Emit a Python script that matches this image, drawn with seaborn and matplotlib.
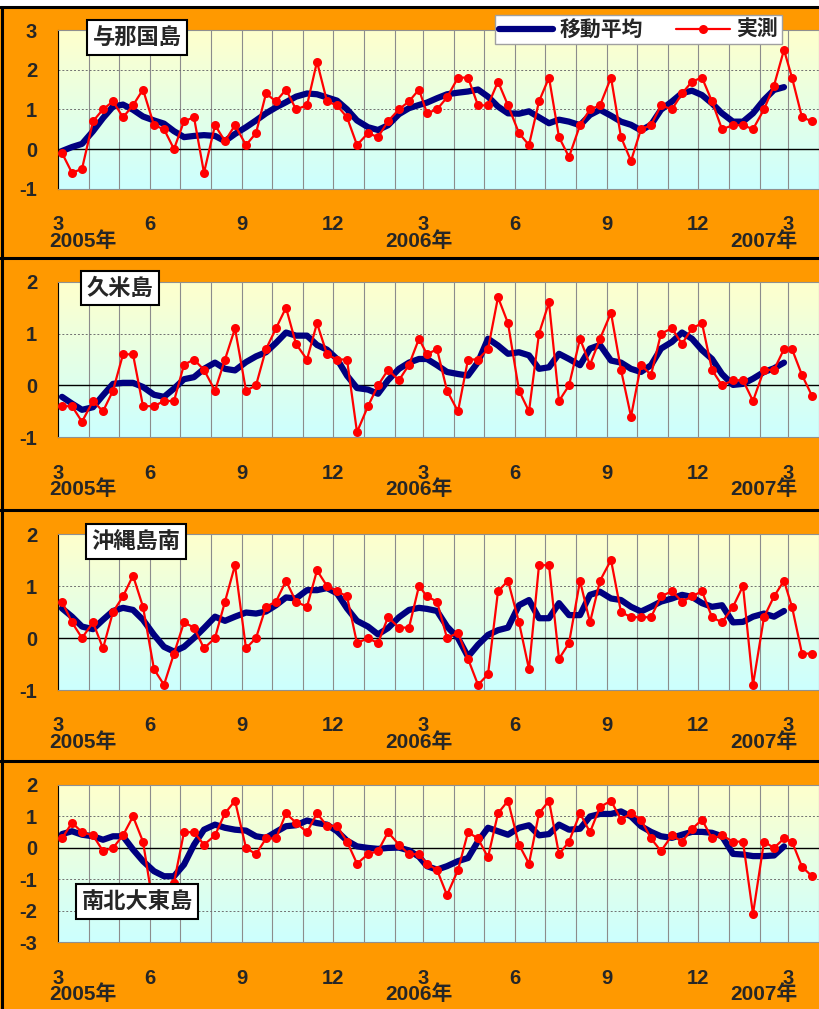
import numpy as np
import pandas as pd
import matplotlib
matplotlib.use("Agg")
import matplotlib.pyplot as plt
from matplotlib.lines import Line2D
from matplotlib.patches import Rectangle
import seaborn as sns

# 旬別データ (2005年3月上旬 ～ 2007年3月下旬)
yonaguni_obs = [-0.1, -0.6, -0.5, 0.7, 1.0, 1.2, 0.8, 1.1, 1.5, 0.6, 0.5, 0.0, 0.7, 0.8, -0.6, 0.6, 0.2, 0.6,
                0.1, 0.4, 1.4, 1.2, 1.5, 1.0, 1.1, 2.2, 1.2, 1.1, 0.8, 0.1, 0.4, 0.3, 0.7, 1.0, 1.2, 1.5,
                0.9, 1.0, 1.3, 1.8, 1.8, 1.1, 1.1, 1.7, 1.1, 0.4, 0.1, 1.2, 1.8, 0.3, -0.2, 0.6, 1.0, 1.1,
                1.8, 0.3, -0.3, 0.5, 0.6, 1.1, 1.0, 1.4, 1.7, 1.8, 1.2, 0.5, 0.6, 0.6, 0.5, 1.0, 1.6, 2.5,
                1.8, 0.8, 0.7]
yonaguni_ma = [-0.05, 0.05, 0.13, 0.45, 0.78, 1.07, 1.12, 0.99, 0.82, 0.72, 0.64, 0.45, 0.3, 0.33, 0.35, 0.33,
               0.2, 0.38, 0.55, 0.72, 0.9, 1.05, 1.18, 1.32, 1.4, 1.38, 1.3, 1.22, 1.0, 0.72, 0.55, 0.48,
               0.6, 0.88, 1.03, 1.11, 1.17, 1.28, 1.38, 1.42, 1.45, 1.5, 1.32, 1.07, 0.9, 0.89, 0.95, 0.8,
               0.65, 0.74, 0.69, 0.6, 0.86, 0.99, 0.84, 0.69, 0.61, 0.47, 0.61, 0.99, 1.2, 1.41, 1.47, 1.36,
               1.15, 0.9, 0.69, 0.69, 0.9, 1.24, 1.49, 1.56]

kume_obs = [-0.4, -0.4, -0.7, -0.3, -0.5, -0.1, 0.6, 0.6, -0.4, -0.4, -0.3, -0.3, 0.4, 0.5, 0.3, -0.1, 0.5, 1.1,
            -0.1, 0.0, 0.7, 1.1, 1.5, 0.8, 0.5, 1.2, 0.6, 0.5, 0.5, -0.9, -0.4, 0.0, 0.3, 0.1, 0.4, 0.9,
            0.6, 0.7, -0.1, -0.5, 0.5, 0.5, 0.7, 1.7, 1.2, -0.1, -0.5, 1.0, 1.6, -0.3, 0.0, 0.9, 0.4, 0.9,
            1.4, 0.3, -0.6, 0.4, 0.2, 1.0, 1.1, 0.8, 1.1, 1.2, 0.3, 0.0, 0.1, 0.1, -0.3, 0.3, 0.3, 0.7,
            0.7, 0.2, -0.2]
kume_ma = [-0.22, -0.35, -0.47, -0.42, -0.19, 0.03, 0.05, 0.05, -0.03, -0.18, -0.22, -0.06, 0.12, 0.16, 0.32,
           0.44, 0.32, 0.29, 0.45, 0.56, 0.64, 0.82, 1.02, 0.96, 0.96, 0.78, 0.69, 0.51, 0.19, -0.05, -0.08,
           -0.16, 0.1, 0.32, 0.44, 0.51, 0.51, 0.39, 0.26, 0.22, 0.19, 0.45, 0.9, 0.77, 0.61, 0.64, 0.58,
           0.32, 0.35, 0.61, 0.51, 0.39, 0.71, 0.78, 0.48, 0.44, 0.32, 0.26, 0.39, 0.71, 0.84, 1.02, 0.9,
           0.68, 0.51, 0.22, 0.01, 0.03, 0.13, 0.26, 0.33, 0.44]

okinawa_obs = [0.7, 0.3, 0.0, 0.3, -0.2, 0.5, 0.8, 1.2, 0.6, -0.6, -0.9, -0.3, 0.3, 0.2, -0.2, 0.0, 0.7, 1.4,
               -0.2, 0.0, 0.6, 0.7, 1.1, 0.7, 0.6, 1.3, 1.0, 0.9, 0.8, -0.1, 0.0, -0.1, 0.4, 0.2, 0.2, 1.0,
               0.8, 0.7, 0.0, 0.1, -0.4, -0.9, -0.7, 0.9, 1.1, 0.3, -0.6, 1.4, 1.4, -0.4, -0.1, 1.1, 0.3, 1.1,
               1.5, 0.5, 0.4, 0.4, 0.4, 0.8, 0.9, 0.7, 0.8, 0.9, 0.4, 0.3, 0.6, 1.0, -0.9, 0.4, 0.8, 1.1,
               0.6, -0.3, -0.3]
okinawa_ma = [0.57, 0.41, 0.22, 0.17, 0.35, 0.52, 0.58, 0.54, 0.35, 0.06, -0.17, -0.26, -0.17, 0.0, 0.19, 0.41,
              0.33, 0.41, 0.49, 0.47, 0.51, 0.63, 0.78, 0.76, 0.92, 0.92, 0.96, 0.86, 0.57, 0.33, 0.22, 0.07,
              0.19, 0.4, 0.54, 0.58, 0.56, 0.52, 0.22, 0.0, -0.36, -0.13, 0.06, 0.15, 0.2, 0.63, 0.73, 0.38,
              0.38, 0.67, 0.44, 0.44, 0.83, 0.89, 0.76, 0.73, 0.6, 0.51, 0.6, 0.7, 0.76, 0.83, 0.79, 0.67,
              0.6, 0.63, 0.3, 0.31, 0.41, 0.47, 0.41, 0.52]

daito_obs = [0.3, 0.8, 0.5, 0.4, -0.1, 0.0, 0.4, 1.0, 0.2, -2.0, -1.6, -1.1, 0.5, 0.5, 0.1, 0.4, 1.1, 1.5,
             0.0, -0.2, 0.3, 0.3, 1.1, 0.8, 0.5, 1.1, 0.7, 0.7, 0.2, -0.5, -0.2, -0.1, 0.5, 0.1, -0.2, -0.2,
             -0.5, -0.7, -1.5, -0.7, 0.5, 0.3, -0.3, 1.1, 1.5, 0.1, -0.5, 1.1, 1.5, -0.2, 0.2, 1.1, 0.5, 1.3,
             1.5, 0.9, 1.1, 0.9, 0.3, -0.1, 0.4, 0.2, 0.6, 0.9, 0.3, 0.4, 0.2, 0.2, -2.1, 0.2, 0.0, 0.3,
             0.2, -0.6, -0.9]
daito_ma = [0.44, 0.53, 0.42, 0.37, 0.26, 0.37, 0.37, -0.05, -0.42, -0.74, -0.9, -0.9, -0.53, 0.1, 0.58, 0.74,
            0.64, 0.58, 0.55, 0.37, 0.32, 0.51, 0.69, 0.72, 0.87, 0.79, 0.74, 0.53, 0.23, 0.05, 0.0, -0.03,
            0.0, 0.01, -0.08, -0.28, -0.58, -0.69, -0.58, -0.42, -0.32, 0.21, 0.64, 0.53, 0.42, 0.64, 0.72,
            0.4, 0.44, 0.74, 0.58, 0.61, 1.0, 1.08, 1.08, 1.16, 1.0, 0.69, 0.51, 0.37, 0.32, 0.42, 0.51,
            0.51, 0.48, 0.37, -0.19, -0.21, -0.26, -0.26, -0.24, 0.05]

stations = ["与那国島", "久米島", "沖縄島南", "南北大東島"]
yticks_list = [[-1, 0, 1, 2, 3], [-1, 0, 1, 2], [-1, 0, 1, 2], [-3, -2, -1, 0, 1, 2]]
year_labels = ["2005年", "2006年", "2007年"]

# 旬の日付 (上旬=5日, 中旬=15日, 下旬=25日)
months = pd.date_range("2005-03-01", "2007-03-01", freq="MS")
dates = [m + pd.Timedelta(days=d - 1) for m in months for d in (5, 15, 25)]
grid_months = pd.date_range("2005-03-01", "2007-04-01", freq="MS")

sns.set_style("white")
plt.rcParams['font.family'] = ['Liberation Sans', 'Noto Sans CJK JP', 'DejaVu Sans']
plt.rcParams['axes.unicode_minus'] = False

W, H = 819, 1009
fig = plt.figure(figsize=(W / 100, H / 100), dpi=100)
fig.patch.set_facecolor("white")
fig.add_artist(Rectangle((0, 0), 1, 1 - 7 / H, transform=fig.transFigure,
                         facecolor="#FF9900", edgecolor="none", zorder=-10))
for yp in [7, 258, 510, 761]:
    fig.add_artist(Line2D([0, 1], [1 - yp / H] * 2, transform=fig.transFigure, color="black", lw=2.2))
fig.add_artist(Line2D([2 / W] * 2, [0, 1 - 7 / H], transform=fig.transFigure, color="black", lw=2.2))

# 各パネルの描画領域 (上端, 下端 ピクセル)
boxes = [(30, 188.7), (281.7, 437.3), (534, 690), (785, 942.3)]
label_pos = [(137, 37.5), (120, 288), (136, 541.5), (137, 901.5)]
series = [(yonaguni_obs, yonaguni_ma), (kume_obs, kume_ma), (okinawa_obs, okinawa_ma), (daito_obs, daito_ma)]

grad = np.linspace(0, 1, 256)[:, None]
top_c = np.array([255, 255, 204]) / 255
bot_c = np.array([204, 255, 255]) / 255
grad_img = top_c[None, None, :] * (1 - grad[..., None]) + bot_c[None, None, :] * grad[..., None]

for k in range(4):
    t, b = boxes[k]
    ax = fig.add_axes([58 / W, 1 - b / H, (W - 58) / W, (b - t) / H])
    ax.imshow(grad_img, extent=[0, 1, 0, 1], transform=ax.transAxes, aspect="auto", zorder=0)
    obs, ma = series[k]
    sns.lineplot(x=dates[:len(ma)], y=ma, ax=ax, color="#000080", lw=4.5, zorder=3,
                 solid_capstyle="round", legend=False)
    sns.lineplot(x=dates[:len(obs)], y=obs, ax=ax, color="#FF0000", lw=1.6, marker="o",
                 markersize=6.5, markeredgewidth=0, zorder=4, legend=False)
    ax.axhline(0, color="black", lw=1, zorder=2)

    yt = yticks_list[k]
    ax.set_ylim(yt[0], yt[-1])
    ax.set_yticks(yt)
    ax.set_yticklabels([str(v) for v in yt], fontsize=14.5, fontweight="bold")
    ax.set_xlim(pd.Timestamp("2005-03-01"), pd.Timestamp("2007-03-26"))
    ax.set_xticks(grid_months)
    ax.set_xticklabels([str(m.month) if m.month % 3 == 0 else "" for m in grid_months],
                       fontsize=14.5, fontweight="bold")
    ax.tick_params(axis="both", length=0)
    ax.tick_params(axis="y", pad=15)
    ax.tick_params(axis="x", pad=19)
    ax.grid(axis="x", color="#8c8c8c", lw=0.8, zorder=1)
    ax.grid(axis="y", color="#707070", lw=0.7, ls=(0, (2, 2)), zorder=1)
    ax.set_xlabel("")
    ax.set_ylabel("")
    for s in ax.spines.values():
        s.set_color("#909090")
        s.set_linewidth(0.8)
    ax.spines["left"].set_color("black")
    ax.spines["right"].set_visible(False)

    for lab, ydate, dx in zip(year_labels, ["2005-03-01", "2006-03-01", "2007-03-01"], [25, -4, -24]):
        ax.annotate(lab, xy=(pd.Timestamp(ydate), 0), xycoords=("data", "axes fraction"),
                    xytext=(dx, -52), textcoords="offset pixels", ha="center", va="center",
                    fontsize=15, fontweight="bold", annotation_clip=False)

    lx, ly = label_pos[k]
    fig.text(lx / W, 1 - ly / H, stations[k], ha="center", va="center", fontsize=16,
             fontweight="bold", family=["Noto Sans CJK JP"], zorder=10,
             bbox=dict(boxstyle="square,pad=0.25", facecolor="white", edgecolor="black", lw=1.5))

handles = [Line2D([], [], color="#000080", lw=4.5),
           Line2D([], [], color="#FF0000", lw=1.6, marker="o", markersize=6.5, markeredgewidth=0)]
leg = fig.legend(handles, ["移動平均", "実測"], loc="center", bbox_to_anchor=(638.5 / W, 1 - 29.5 / H),
                 ncol=2, frameon=True, fancybox=False, framealpha=1, edgecolor="#a0a0a0",
                 prop=dict(family=["Noto Sans CJK JP"], weight="bold", size=15),
                 handlelength=2.6, handletextpad=0.3, columnspacing=1.6, borderpad=0.2,
                 borderaxespad=0)
leg.get_frame().set_linewidth(1.0)
leg.set_zorder(20)

fig.savefig("out.png", dpi=100)
